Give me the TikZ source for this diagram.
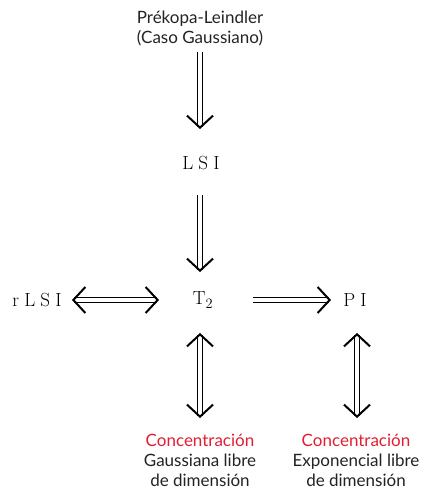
\documentclass[tikz,border=0pt]{standalone}
\usepackage{fontspec}
\newfontfamily\lato{Lato}
\usetikzlibrary{arrows.meta}
\definecolor{conred}{RGB}{226,30,50}
\definecolor{txt}{RGB}{35,35,35}
\begin{document}
\begin{tikzpicture}[x=1pt,y=-1pt,
  lbl/.style={font=\lato\fontsize{17}{20}\selectfont, text=txt, align=center, inner sep=0pt},
  sym/.style={font=\fontsize{19}{22}\selectfont, text=black, inner sep=0pt},
  dbl/.style={double, double distance=3.2pt, line width=1.8pt, black},
  tipr/.style={-{Straight Barb[length=12pt,width=26pt,line width=2pt]}},
  tipb/.style={{Straight Barb[length=12pt,width=26pt,line width=2pt]}-{Straight Barb[length=12pt,width=26pt,line width=2pt]}}]
\useasboundingbox (0,0) rectangle (422,492);
\node[lbl] (pl) at (200,28) {Prékopa-Leindler\\(Caso Gaussiano)};
\node[sym] (lsi) at (201,163) {L\;S\;I};
\node[sym] (t2) at (203,300) {T$_2$};
\node[sym] (rlsi) at (37,300) {r\;L\;S\;I};
\node[sym] (pi) at (355,300) {P\;I};
\node[lbl] (cg) at (200,460) {\textcolor{conred}{Concentración}\\Gaussiana libre\\de dimensión};
\node[lbl] (ce) at (356,460) {\textcolor{conred}{Concentración}\\Exponencial libre\\de dimensión};
\coordinate (a1s) at (200,52); \coordinate (a1e) at (200,129);
\coordinate (a2s) at (200,195); \coordinate (a2e) at (200,272);
\draw[dbl,tipr] (a1s) -- (a1e);
\draw[dbl,tipr] (a2s) -- (a2e);
\draw[dbl,tipb] (72,300) -- (159,300);
\draw[dbl,tipr] (253,300) -- (331,300);
\draw[dbl,tipb] (200,333) -- (200,418);
\draw[dbl,tipb] (357,333) -- (357,418);
\end{tikzpicture}
\end{document}
